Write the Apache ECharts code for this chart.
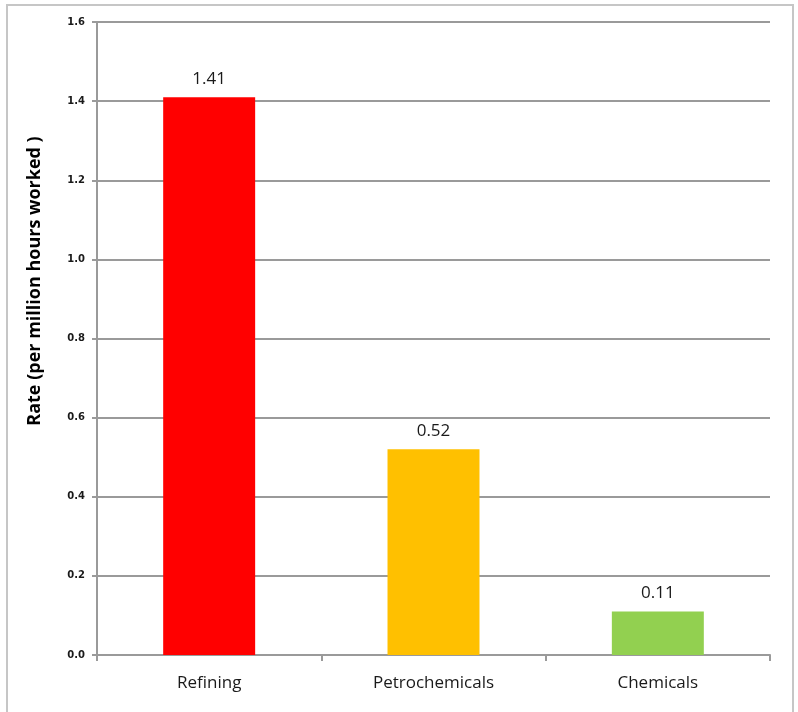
<!DOCTYPE html>
<html>
<head>
<meta charset="utf-8">
<script src="https://cdn.jsdelivr.net/npm/echarts@6/dist/echarts.min.js"></script>
<style>
  html, body { margin: 0; padding: 0; background: #fff; }
  #chart { width: 798px; height: 712px; }
</style>
</head>
<body>
<div id="chart"></div>
<script>
// data
var categories = ['Refining', 'Petrochemicals', 'Chemicals'];
var rates = [1.41, 0.52, 0.11];
var barColors = ['#FF0000', '#FFC000', '#92D050'];
var yTicks = ['0.0', '0.2', '0.4', '0.6', '0.8', '1.0', '1.2', '1.4', '1.6'];
var yTitle = 'Rate (per million hours worked )';

var chart = echarts.init(document.getElementById('chart'));

var barData = [];
for (var i = 0; i < rates.length; i++) {
    barData.push({ value: rates[i], itemStyle: { color: barColors[i] } });
}

var option = {
    animation: false,
    graphic: [{
        type: 'rect',
        shape: { x: 7, y: 5, width: 786, height: 730 },
        style: { fill: 'none', stroke: '#c6c6c6', lineWidth: 2 },
        silent: true
    }, {
        // y axis title sits above the axis middle in the original, so placed by hand
        type: 'text',
        x: 35,
        y: 281,
        rotation: Math.PI / 2,
        style: {
            text: yTitle,
            fill: '#000',
            font: 'bold 18px "Open Sans"',
            textAlign: 'center',
            textVerticalAlign: 'middle'
        },
        silent: true
    }],
    grid: { left: 97, right: 28, top: 22, bottom: 57 },
    xAxis: {
        type: 'category',
        data: categories,
        axisLine: { lineStyle: { color: '#9a9a9a', width: 2 } },
        axisTick: { show: true, length: 6, lineStyle: { color: '#9a9a9a', width: 2 } },
        axisLabel: { color: '#1a1a1a', fontSize: 17, fontFamily: 'Open Sans', margin: 20 }
    },
    yAxis: {
        type: 'value',
        min: 0,
        max: 1.6,
        interval: 0.2,
        axisLine: { show: true, lineStyle: { color: '#9a9a9a', width: 2 } },
        axisTick: { show: true, length: 5, lineStyle: { color: '#9a9a9a', width: 2 } },
        axisLabel: {
            color: '#1a1a1a', fontSize: 10, fontWeight: 'bold', fontFamily: 'DejaVu Sans', margin: 12,
            formatter: function (v) { return yTicks[Math.round(v / 0.2)]; }
        },
        splitLine: { lineStyle: { color: '#9a9a9a', width: 2 } }
    },
    series: [{
        type: 'bar',
        data: barData,
        barWidth: '41%',
        label: {
            show: true,
            position: 'top',
            distance: 10,
            color: '#1a1a1a',
            fontSize: 17,
            fontFamily: 'Open Sans',
            formatter: function (p) { return p.value.toFixed(2); }
        }
    }]
};
chart.setOption(option);
</script>
</body>
</html>
